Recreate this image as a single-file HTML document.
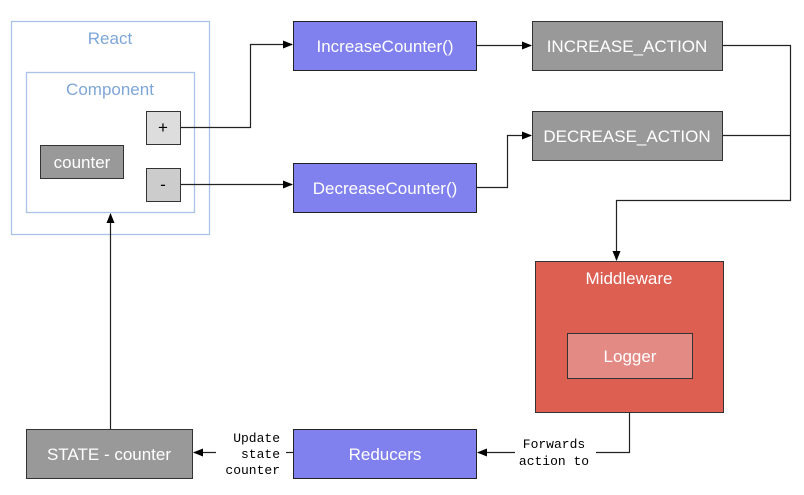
<!DOCTYPE html>
<html><head><meta charset="utf-8"><style>
html,body{margin:0;padding:0;background:#fff;}
svg{display:block;}
text{font-family:"Liberation Sans",Helvetica,Arial,sans-serif;}
.m{font-family:"Liberation Mono","DejaVu Sans Mono",monospace;font-size:13px;fill:#000;}
</style></head><body>
<svg width="804" height="495" viewBox="0 0 804 495" xmlns="http://www.w3.org/2000/svg">
<defs><marker id="a" markerWidth="10" markerHeight="8" refX="9" refY="4" orient="auto" markerUnits="userSpaceOnUse"><path d="M0,0 L10,4 L0,8 Z" fill="#000"/></marker></defs>
<rect x="11.5" y="21.5" width="198" height="213" fill="#fff" stroke="#a9c4e6" stroke-width="1.3"/>
<text x="110" y="44" text-anchor="middle" font-size="17" fill="#7ea6d8">React</text>
<rect x="26.5" y="72.5" width="168" height="140" fill="#fff" stroke="#a9c4e6" stroke-width="1.3"/>
<text x="110" y="95" text-anchor="middle" font-size="17" fill="#7ea6d8">Component</text>
<rect x="40.5" y="145.5" width="83" height="33" fill="#999" stroke="#333"/>
<text x="82" y="168" text-anchor="middle" font-size="17" fill="#fff">counter</text>
<rect x="146.5" y="111.5" width="34" height="33" fill="#ddd" stroke="#333"/>
<text x="163" y="133" text-anchor="middle" font-size="17" fill="#000">+</text>
<rect x="146.5" y="168.5" width="34" height="33" fill="#ccc" stroke="#333"/>
<text x="163" y="190" text-anchor="middle" font-size="17" fill="#000">-</text>
<rect x="293.5" y="21.5" width="183" height="49" fill="#8080ee" stroke="#222"/>
<text x="385" y="52" text-anchor="middle" font-size="17" fill="#fff">IncreaseCounter()</text>
<rect x="293.5" y="163.5" width="183" height="49" fill="#8080ee" stroke="#222"/>
<text x="385" y="194" text-anchor="middle" font-size="17" fill="#fff">DecreaseCounter()</text>
<rect x="293.5" y="429.5" width="183" height="49" fill="#8080ee" stroke="#222"/>
<text x="385" y="460" text-anchor="middle" font-size="17" fill="#fff">Reducers</text>
<rect x="532.5" y="21.5" width="190" height="49" fill="#999" stroke="#333"/>
<text x="627" y="52" text-anchor="middle" font-size="17" fill="#fff">INCREASE_ACTION</text>
<rect x="532.5" y="111.5" width="190" height="49" fill="#999" stroke="#333"/>
<text x="627" y="142" text-anchor="middle" font-size="17" fill="#fff">DECREASE_ACTION</text>
<rect x="26.5" y="429.5" width="166" height="49" fill="#999" stroke="#333"/>
<text x="109" y="460" text-anchor="middle" font-size="17" fill="#fff">STATE - counter</text>
<rect x="535.5" y="261.5" width="188" height="151" fill="#dc5f52" stroke="#333"/>
<text x="629" y="284" text-anchor="middle" font-size="17" fill="#fff">Middleware</text>
<rect x="567.5" y="333.5" width="125" height="45" fill="#e48a84" stroke="#333"/>
<text x="630" y="362" text-anchor="middle" font-size="17" fill="#fff">Logger</text>
<g fill="none" stroke="#222" stroke-width="1.2">
<path d="M180.5,127.5 H250.5 V44.5 H292" marker-end="url(#a)"/>
<path d="M180.5,184.5 H292" marker-end="url(#a)"/>
<path d="M476.5,45.5 H531" marker-end="url(#a)"/>
<path d="M476.5,187.5 H507.5 V135.5 H531" marker-end="url(#a)"/>
<path d="M722.5,45.5 H790.5 V200.5 H616.5 V260" marker-end="url(#a)"/>
<path d="M722.5,135.5 H790.5"/>
<path d="M629.5,412.5 V452.5 H596"/>
<path d="M515,452.5 H478" marker-end="url(#a)"/>
<path d="M293,452.5 H286"/>
<path d="M216,452.5 H194" marker-end="url(#a)"/>
<path d="M110.5,429 V214" marker-end="url(#a)"/>
</g>
<text class="m" x="554" y="448" text-anchor="middle">Forwards</text>
<text class="m" x="554" y="465" text-anchor="middle">action to</text>
<text class="m" x="280" y="442" text-anchor="end">Update</text>
<text class="m" x="280" y="458" text-anchor="end">state</text>
<text class="m" x="280" y="474" text-anchor="end">counter</text>
</svg>
</body></html>
